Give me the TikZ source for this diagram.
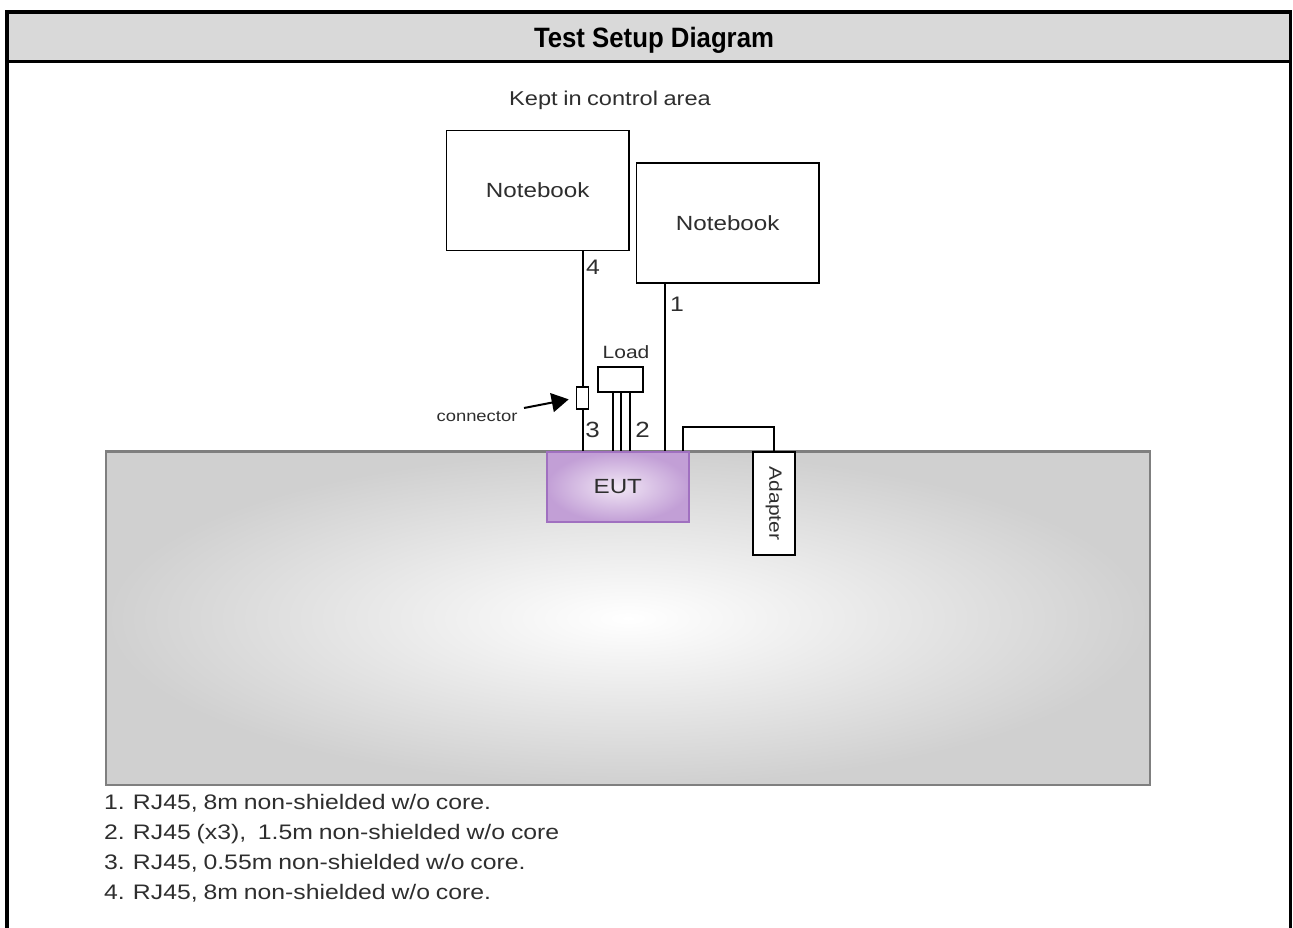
\documentclass[tikz,border=0pt]{standalone}
\usepackage{fontspec}
\setmainfont[FakeStretch=1.18,WordSpace=0.85]{Liberation Sans}
\newfontfamily\titlefont[FakeStretch=0.92]{Liberation Sans}
\usetikzlibrary{arrows.meta}
\definecolor{hdr}{HTML}{D9D9D9}
\definecolor{txt}{HTML}{2E2E2E}
\definecolor{tabedge}{HTML}{7F7F7F}
\definecolor{tabout}{HTML}{D0D0D0}
\definecolor{eutin}{HTML}{F1E6F5}
\definecolor{eutout}{HTML}{C29FD6}
\definecolor{eutedge}{HTML}{A070C0}
\begin{document}
\begin{tikzpicture}[x=1pt,y=-1pt,
  box/.style={draw=black,line width=1.9pt,fill=white,inner sep=0pt,text=txt},
  wire/.style={draw=black,line width=2pt},
  lbl/.style={inner sep=0pt,text=txt},
  frame/.style={draw=black,line width=3.5pt}]
\useasboundingbox (0,0) rectangle (1293,927);
% header and frame
\fill[hdr] (6.8,12) rectangle (1290.5,61.5);
\draw[frame] (6.8,935) -- (6.8,12) -- (1290.5,12) -- (1290.5,935);
\draw[draw=black,line width=2.8pt] (6.8,61.5) -- (1290.5,61.5);
\node[lbl,anchor=base,text=black] (title) at (654,47) {\titlefont\bfseries\fontsize{28}{32}\selectfont Test Setup Diagram};
% table
\node[draw=tabedge,line width=2.4pt,inner color=white,outer color=tabout,
      minimum width=1044pt,minimum height=333.5pt,inner sep=0pt] (table) at (628,618.25) {};
\node[lbl,anchor=base] (kept) at (610,105) {\fontsize{20}{24}\selectfont Kept in control area};
% notebooks
\node[box,minimum width=182.5pt,minimum height=120pt] (nb1) at (537.7,190.5) {\fontsize{20.5}{24}\selectfont Notebook};
\node[box,minimum width=182.5pt,minimum height=119.7pt] (nb2) at (727.7,222.9) {\fontsize{20.5}{24}\selectfont Notebook};
% EUT and adapter
\node[draw=eutedge,line width=1.8pt,inner color=eutin,outer color=eutout,text=txt,
      minimum width=142.3pt,minimum height=70pt,inner sep=0pt] (eut) at (617.8,487) {\fontsize{20.5}{24}\selectfont EUT};
\node[box,minimum width=42.3pt,minimum height=103pt] (adp) at (773.9,503.5) {};
\node[lbl,rotate=-90] (adptxt) at (adp.center) {\fontsize{17.8}{20}\selectfont Adapter};
% load and connector
\node[box,minimum width=45pt,minimum height=25pt] (load) at (620.5,379.5) {};
\node[lbl] (loadtxt) at (626,352) {\fontsize{17.8}{20}\selectfont Load};
\node[box,minimum width=12pt,minimum height=22pt] (cbox) at (582.5,398) {};
% wire coordinates
\coordinate (l1) at (665,0);
\coordinate (w1) at (612.7,0);
\coordinate (w2) at (621.3,0);
\coordinate (w3) at (630.3,0);
\coordinate (ac) at (682.7,0);
% cables
\draw[wire] (nb1.south -| cbox.north) -- (cbox.north);
\draw[wire] (cbox.south) -- (eut.north -| cbox.south);
\draw[wire] (nb2.south -| l1) -- (eut.north -| l1);
\draw[wire] (load.south -| w1) -- (eut.north -| w1);
\draw[wire] (load.south -| w2) -- (eut.north -| w2);
\draw[wire] (load.south -| w3) -- (eut.north -| w3);
\draw[wire] (eut.north -| ac) -- ++(0,-24.3) -| (adp.north);
% labels
\node[lbl] (n4) at (593,267) {\fontsize{21}{24}\selectfont 4};
\node[lbl] (n1) at (677,304) {\fontsize{21}{24}\selectfont 1};
\node[lbl] (n3) at (592.7,430) {\fontsize{22}{24}\selectfont 3};
\node[lbl] (n2) at (642.7,430) {\fontsize{22}{24}\selectfont 2};
% connector arrow
\node[lbl] (conntxt) at (477,417) {\fontsize{15.6}{18}\selectfont connector};
\coordinate (ctail) at (524,408);
\draw[line width=2pt,-{Triangle[length=17pt,width=19pt]},shorten >=7pt] (ctail) -- (cbox.west);
% legend
\node[lbl,anchor=base west] (leg1) at (104,809) {\fontsize{21}{24}\selectfont 1. RJ45, 8m non-shielded w/o core.};
\node[lbl,anchor=base west] (leg2) at (104,839) {\fontsize{21}{24}\selectfont 2. RJ45 (x3),\ \ 1.5m non-shielded w/o core};
\node[lbl,anchor=base west] (leg3) at (104,869) {\fontsize{21}{24}\selectfont 3. RJ45, 0.55m non-shielded w/o core.};
\node[lbl,anchor=base west] (leg4) at (104,899) {\fontsize{21}{24}\selectfont 4. RJ45, 8m non-shielded w/o core.};
\end{tikzpicture}
\end{document}
